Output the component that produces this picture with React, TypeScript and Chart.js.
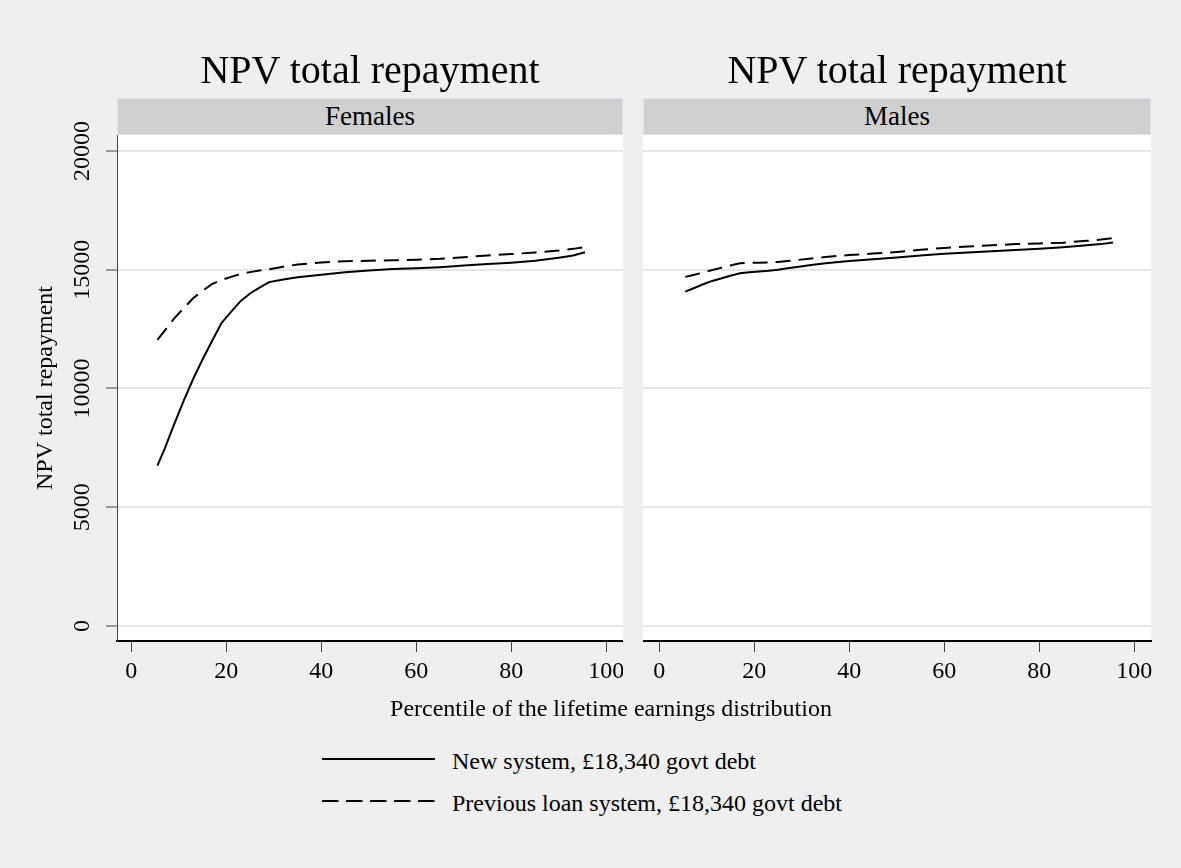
import React, { useEffect, useRef } from "react";
import { Chart, registerables } from "chart.js";

Chart.register(...registerables);

// ---- data ----
const percentiles = [5.5, 7, 9, 11, 13, 15, 17, 19, 21, 23, 25, 27, 29, 32, 35, 40, 45, 50, 55, 60, 65, 70, 75, 80, 85, 90, 93, 95.5];
const femalesNew = [6750, 7450, 8480, 9470, 10390, 11220, 12000, 12760, 13230, 13680, 14000, 14250, 14480, 14590, 14680, 14790, 14900, 14970, 15030, 15060, 15110, 15180, 15240, 15300, 15380, 15510, 15600, 15740];
const femalesPrev = [12050, 12430, 12940, 13370, 13800, 14110, 14400, 14570, 14700, 14820, 14900, 14970, 15020, 15130, 15220, 15310, 15360, 15380, 15400, 15420, 15460, 15530, 15600, 15660, 15730, 15810, 15880, 15960];
const malesNew = [14080, 14200, 14370, 14520, 14630, 14750, 14850, 14900, 14930, 14960, 15000, 15060, 15120, 15200, 15270, 15370, 15440, 15520, 15600, 15670, 15730, 15780, 15830, 15880, 15950, 16030, 16080, 16150];
const malesPrev = [14700, 14770, 14870, 14980, 15080, 15180, 15270, 15290, 15300, 15310, 15330, 15370, 15410, 15470, 15540, 15620, 15680, 15750, 15840, 15920, 15980, 16030, 16080, 16110, 16140, 16220, 16270, 16330];

const xTicks = [0, 20, 40, 60, 80, 100];
const yTicks = [0, 5000, 10000, 15000, 20000];
const panelTitles = ["NPV total repayment", "NPV total repayment"];
const panelLabels = ["Females", "Males"];
const seriesLabels = ["New system, £18,340 govt debt", "Previous loan system, £18,340 govt debt"];
const yTitle = "NPV total repayment";
const xTitle = "Percentile of the lifetime earnings distribution";

const FONT = '"Liberation Serif", "Times New Roman", serif';
const BG = "#efefef";
const DASH = [15, 8];

const plotBg = {
  id: "plotBg",
  beforeDraw(chart: any) {
    const { ctx, chartArea } = chart;
    if (!chartArea) return;
    ctx.save();
    ctx.fillStyle = "#ffffff";
    ctx.fillRect(chartArea.left, chartArea.top, chartArea.width, chartArea.height);
    ctx.restore();
  },
};

type PanelProps = {
  left: number;
  top: number;
  width: number;
  height: number;
  newVals: number[];
  prevVals: number[];
  showY: boolean;
  xMin: number;
  xMax: number;
  padRight: number;
};

function Panel(p: PanelProps) {
  const ref = useRef<HTMLCanvasElement | null>(null);
  useEffect(() => {
    if (!ref.current) return;
    const mk = (vals: number[]) => percentiles.map((x, i) => ({ x, y: vals[i] }));
    const yScale: any = {
      type: "linear",
      min: -633,
      max: 20675,
      afterBuildTicks: (s: any) => {
        s.ticks = yTicks.map((v) => ({ value: v }));
      },
      grid: {
        color: "#e6e6e6",
        lineWidth: 2,
        drawTicks: p.showY,
        tickLength: 11,
        tickColor: "#444444",
        tickWidth: 1,
      },
      border: { display: p.showY, color: "#444444", width: 1 },
      ticks: p.showY
        ? {
            display: true,
            font: { family: FONT, size: 24 },
            color: "#000",
            minRotation: 90,
            maxRotation: 90,
            crossAlign: "center",
            padding: -7,
            callback: (v: any) => String(v),
          }
        : { display: false },
      title: p.showY
        ? {
            display: true,
            text: yTitle,
            font: { family: FONT, size: 24 },
            color: "#000",
            padding: { top: 31, bottom: 0 },
          }
        : { display: false },
      afterFit: (s: any) => {
        s.width = p.showY ? 117 : 0;
        s.paddingTop = 0;
        s.paddingBottom = 0;
      },
    };
    const chart = new Chart(ref.current, {
      type: "line",
      data: {
        datasets: [
          {
            label: seriesLabels[0],
            data: mk(p.newVals),
            borderColor: "#000",
            borderWidth: 2,
            pointRadius: 0,
            tension: 0,
            fill: false,
          },
          {
            label: seriesLabels[1],
            data: mk(p.prevVals),
            borderColor: "#000",
            borderWidth: 2,
            borderDash: DASH,
            pointRadius: 0,
            tension: 0,
            fill: false,
          },
        ],
      },
      options: {
        animation: false,
        responsive: false,
        devicePixelRatio: 1,
        layout: { padding: { top: 45, right: p.padRight, left: 0, bottom: 0 } },
        plugins: { legend: { display: false }, tooltip: { enabled: false }, title: { display: false } },
        scales: {
          x: {
            type: "linear",
            min: p.xMin,
            max: p.xMax,
            afterBuildTicks: (s: any) => {
              s.ticks = xTicks.map((v) => ({ value: v }));
            },
            ticks: {
              font: { family: FONT, size: 24 },
              color: "#000",
              padding: 5,
              maxRotation: 0,
              autoSkip: false,
              callback: (v: any) => String(v),
            },
            grid: { drawOnChartArea: false, drawTicks: true, tickLength: 11, tickColor: "#444444", tickWidth: 1 },
            border: { display: true, color: "#000", width: 2 },
            afterFit: (s: any) => {
              s.height = p.height - 45 - 506;
              s.paddingLeft = 0;
              s.paddingRight = 0;
            },
          } as any,
          y: yScale,
        },
      },
      plugins: [plotBg],
    });
    return () => chart.destroy();
  }, []);
  return (
    <canvas
      ref={ref}
      width={p.width}
      height={p.height}
      style={{ position: "absolute", left: p.left, top: p.top, width: p.width, height: p.height }}
    />
  );
}

function CenterText(props: { x: number; y: number; size: number; children: React.ReactNode }) {
  return (
    <div
      style={{
        position: "absolute",
        left: props.x,
        top: props.y,
        transform: "translate(-50%, -50%)",
        fontFamily: FONT,
        fontSize: props.size,
        lineHeight: 1,
        whiteSpace: "nowrap",
        color: "#000",
      }}
    >
      {props.children}
    </div>
  );
}

function Strip(props: { left: number; width: number; text: string }) {
  return (
    <div
      style={{
        position: "absolute",
        left: props.left,
        top: 98,
        width: props.width,
        height: 37,
        boxSizing: "border-box",
        background: "#d0d0d0",
        border: "1px solid #dbe4ea",
        display: "flex",
        alignItems: "center",
        justifyContent: "center",
        fontFamily: FONT,
        fontSize: 27,
        lineHeight: 1,
        color: "#000",
        zIndex: 2,
      }}
    >
      {props.text}
    </div>
  );
}

export default function App() {
  return (
    <div
      style={{
        position: "absolute",
        left: 0,
        top: 0,
        width: 1181,
        height: 868,
        background: BG,
        overflow: "hidden",
      }}
    >
      <Panel left={0} top={90} width={623} height={616} newVals={femalesNew} prevVals={femalesPrev} showY={true} xMin={-3} xMax={103.5} padRight={0} />
      <Panel left={643} top={90} width={538} height={616} newVals={malesNew} prevVals={malesPrev} showY={false} xMin={-3.4} xMax={103.5} padRight={30} />
      <CenterText x={370} y={70} size={40}>{panelTitles[0]}</CenterText>
      <CenterText x={897} y={70} size={40}>{panelTitles[1]}</CenterText>
      <Strip left={117} width={506} text={panelLabels[0]} />
      <Strip left={643} width={508} text={panelLabels[1]} />
      <CenterText x={611} y={708} size={24}>{xTitle}</CenterText>
      <svg style={{ position: "absolute", left: 322, top: 748, width: 116, height: 64 }} width={116} height={64}>
        <line x1={0} y1={11} x2={113} y2={11} stroke="#000" strokeWidth={2} />
        <line x1={0} y1={53} x2={113} y2={53} stroke="#000" strokeWidth={2} strokeDasharray="16.5 7.5" />
      </svg>
      <div style={{ position: "absolute", left: 452, top: 761, transform: "translateY(-50%)", fontFamily: FONT, fontSize: 24, lineHeight: 1, whiteSpace: "nowrap" }}>
        {seriesLabels[0]}
      </div>
      <div style={{ position: "absolute", left: 452, top: 803, transform: "translateY(-50%)", fontFamily: FONT, fontSize: 24, lineHeight: 1, whiteSpace: "nowrap" }}>
        {seriesLabels[1]}
      </div>
    </div>
  );
}
